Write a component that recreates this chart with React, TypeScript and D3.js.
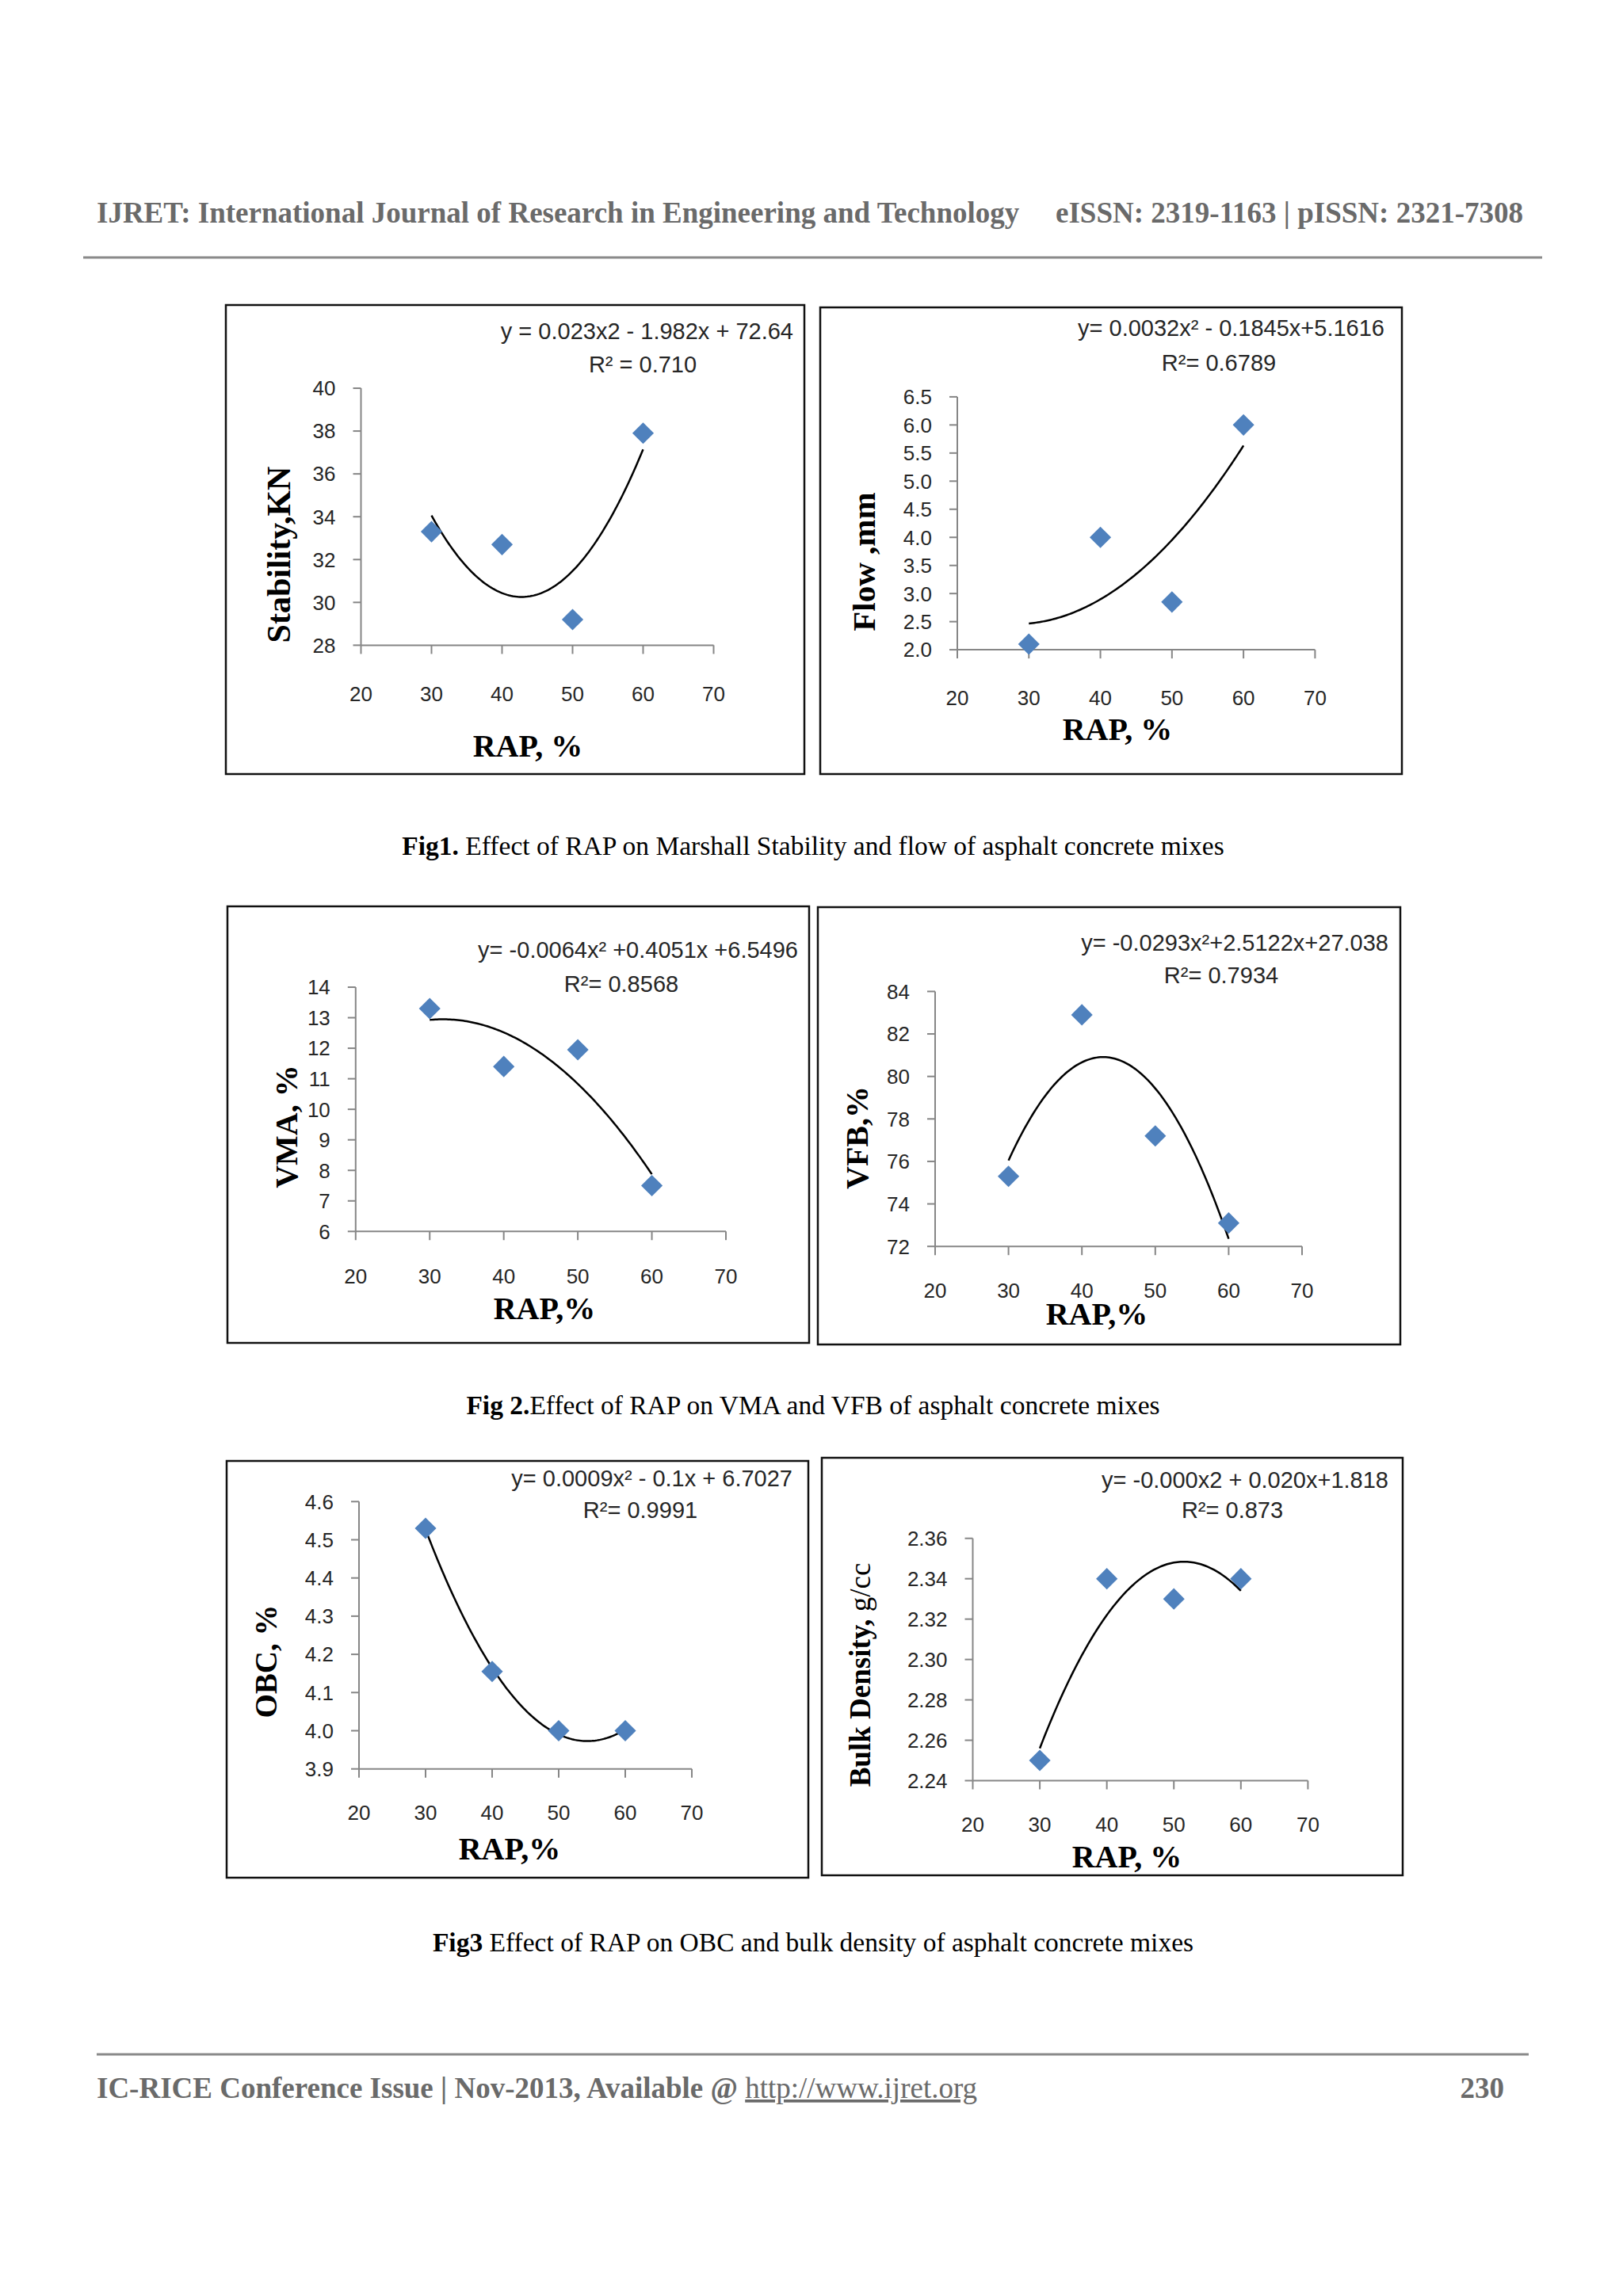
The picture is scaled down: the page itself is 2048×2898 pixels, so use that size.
import React from 'react';
import * as d3 from 'd3';

// RAP content (%) - shared x values for every figure
const rap = [30, 40, 50, 60];
const xTicks = [20, 30, 40, 50, 60, 70];

const stability = [33.3, 32.7, 29.2, 37.9];
const flow = [2.1, 4.0, 2.85, 6.0];
const vma = [13.3, 11.4, 11.95, 7.5];
const vfb = [75.3, 82.9, 77.2, 73.1];
const obc = [4.53, 4.155, 4.0, 4.0];
const bulkDensity = [2.25, 2.34, 2.33, 2.34];

const stabilityTicks = [28, 30, 32, 34, 36, 38, 40];
const flowTicks = [2.0, 2.5, 3.0, 3.5, 4.0, 4.5, 5.0, 5.5, 6.0, 6.5];
const vmaTicks = [6, 7, 8, 9, 10, 11, 12, 13, 14];
const vfbTicks = [72, 74, 76, 78, 80, 82, 84];
const obcTicks = [3.9, 4.0, 4.1, 4.2, 4.3, 4.4, 4.5, 4.6];
const densityTicks = [2.24, 2.26, 2.28, 2.30, 2.32, 2.34, 2.36];

const equations = [
  'y = 0.023x2 - 1.982x + 72.64',
  'y= 0.0032x² - 0.1845x+5.1616',
  'y= -0.0064x² +0.4051x +6.5496',
  'y= -0.0293x²+2.5122x+27.038',
  'y= 0.0009x² - 0.1x + 6.7027',
  'y= -0.000x2 + 0.020x+1.818',
];
const rSquared = ['R² = 0.710', 'R²= 0.6789', 'R²= 0.8568', 'R²= 0.7934', 'R²= 0.9991', 'R²= 0.873'];

const SERIF = '"Liberation Serif", "Times New Roman", serif';
const SANS = '"Liberation Sans", Arial, sans-serif';
const AXIS = '#868686';
const BLUE = '#4F81BD';

// least squares quadratic (same as excel's polynomial trendline, order 2)
function quadFit(xs: number[], ys: number[]) {
  const n = xs.length;
  let s = [0, 0, 0, 0, 0], t = [0, 0, 0];
  for (let i = 0; i < n; i++) {
    const x = xs[i], y = ys[i];
    for (let k = 0; k <= 4; k++) s[k] += Math.pow(x, k);
    for (let k = 0; k <= 2; k++) t[k] += y * Math.pow(x, k);
  }
  const m = [
    [s[0], s[1], s[2], t[0]],
    [s[1], s[2], s[3], t[1]],
    [s[2], s[3], s[4], t[2]],
  ];
  for (let i = 0; i < 3; i++) {
    for (let j = i + 1; j < 3; j++) {
      const f = m[j][i] / m[i][i];
      for (let k = i; k < 4; k++) m[j][k] -= f * m[i][k];
    }
  }
  const c = [0, 0, 0];
  for (let i = 2; i >= 0; i--) {
    let v = m[i][3];
    for (let k = i + 1; k < 3; k++) v -= m[i][k] * c[k];
    c[i] = v / m[i][i];
  }
  return (x: number) => c[0] + c[1] * x + c[2] * x * x;
}

type PanelProps = {
  box: number[];
  plot: { x0: number; x1: number; yTop: number; yBot: number };
  values: number[];
  yTicks: number[];
  fmt: (v: number) => string;
  eq: string;
  r2: string;
  eqPos: number[];
  r2Pos: number[];
  yLabel: React.ReactNode;
  yLabelPos: number[];
  yLabelSize: number;
  xLabel: string;
  xLabelPos: number[];
  xTickY: number;
};

const Panel = (p: PanelProps) => {
  const x = d3.scaleLinear().domain([20, 70]).range([p.plot.x0, p.plot.x1]);
  const y = d3.scaleLinear().domain([p.yTicks[0], p.yTicks[p.yTicks.length - 1]]).range([p.plot.yBot, p.plot.yTop]);
  const trend = quadFit(rap, p.values);
  const line = d3.line<number>().x(d => x(d)).y(d => y(trend(d)));
  const diamond = d3.symbol(d3.symbolDiamond2, 470)();
  const [bx0, by0, bx1, by1] = p.box;
  return (
    <g>
      <rect x={bx0} y={by0} width={bx1 - bx0} height={by1 - by0} fill="white" stroke="#111" strokeWidth={2.5} />
      <line x1={p.plot.x0} x2={p.plot.x0} y1={p.plot.yTop} y2={p.plot.yBot} stroke={AXIS} strokeWidth={2} />
      <line x1={p.plot.x0} x2={p.plot.x1} y1={p.plot.yBot} y2={p.plot.yBot} stroke={AXIS} strokeWidth={2} />
      {p.yTicks.map(t => (
        <g key={'y' + t}>
          <line x1={p.plot.x0 - 10} x2={p.plot.x0} y1={y(t)} y2={y(t)} stroke={AXIS} strokeWidth={2} />
          <text x={p.plot.x0 - 32} y={y(t)} dy="0.36em" textAnchor="end" fontFamily={SANS} fontSize={26} fill="#262626">{p.fmt(t)}</text>
        </g>
      ))}
      {xTicks.map(t => (
        <g key={'x' + t}>
          <line x1={x(t)} x2={x(t)} y1={p.plot.yBot} y2={p.plot.yBot + 11} stroke={AXIS} strokeWidth={2} />
          <text x={x(t)} y={p.xTickY} dy="0.36em" textAnchor="middle" fontFamily={SANS} fontSize={26} fill="#262626">{t}</text>
        </g>
      ))}
      <path d={line(d3.range(30, 60.001, 0.25)) || ''} fill="none" stroke="#000" strokeWidth={2.5} />
      {rap.map((r, i) => (
        <path key={'p' + r} d={diamond || ''} transform={`translate(${x(r)},${y(p.values[i])})`} fill={BLUE} />
      ))}
      <text x={p.eqPos[0]} y={p.eqPos[1]} dy="0.36em" textAnchor="end" fontFamily={SANS} fontSize={29} fill="#262626">{p.eq}</text>
      <text x={p.r2Pos[0]} y={p.r2Pos[1]} dy="0.36em" textAnchor="middle" fontFamily={SANS} fontSize={29} fill="#262626">{p.r2}</text>
      <text transform={`translate(${p.yLabelPos[0]},${p.yLabelPos[1]}) rotate(-90)`} dy="0.35em" textAnchor="middle" fontFamily={SERIF} fontWeight="bold" fontSize={p.yLabelSize} fill="#000">{p.yLabel}</text>
      <text x={p.xLabelPos[0]} y={p.xLabelPos[1]} dy="0.35em" textAnchor="middle" fontFamily={SERIF} fontWeight="bold" fontSize={40} fill="#000">{p.xLabel}</text>
    </g>
  );
};

const f0 = (v: number) => d3.format('d')(v);
const f1 = (v: number) => d3.format('.1f')(v);
const f2 = (v: number) => d3.format('.2f')(v);

export default function App() {
  return (
    <svg width={2048} height={2898} style={{ position: 'absolute', left: 0, top: 0, background: '#fff' }}>
      <rect width={2048} height={2898} fill="#fff" />
      {/* page header */}
      <text x={122} y={281} fontFamily={SERIF} fontWeight="bold" fontSize={37} fill="#6a6a6a">IJRET: International Journal of Research in Engineering and Technology</text>
      <text x={1922} y={281} textAnchor="end" fontFamily={SERIF} fontWeight="bold" fontSize={37} fill="#6a6a6a">eISSN: 2319-1163 | pISSN: 2321-7308</text>
      <line x1={105} x2={1946} y1={325} y2={325} stroke="#8a8a8a" strokeWidth={3} />

      <Panel box={[285, 385, 1015, 977]} plot={{ x0: 455.5, x1: 900.5, yTop: 490, yBot: 814.4 }}
        values={stability} yTicks={stabilityTicks} fmt={f0} eq={equations[0]} r2={rSquared[0]}
        eqPos={[1001, 418]} r2Pos={[811, 460]} yLabel="Stability,KN" yLabelPos={[351, 700]} yLabelSize={42}
        xLabel="RAP, %" xLabelPos={[666, 941]} xTickY={876} />
      <Panel box={[1035, 388, 1769, 977]} plot={{ x0: 1208, x1: 1659.4, yTop: 500.9, yBot: 820.1 }}
        values={flow} yTicks={flowTicks} fmt={f1} eq={equations[1]} r2={rSquared[1]}
        eqPos={[1747, 414]} r2Pos={[1538, 458]} yLabel="Flow ,mm" yLabelPos={[1090, 709]} yLabelSize={41}
        xLabel="RAP, %" xLabelPos={[1410, 920]} xTickY={881} />
      <text x={1026} y={1079} textAnchor="middle" fontFamily={SERIF} fontSize={33.5} fill="#000"><tspan fontWeight="bold">Fig1.</tspan> Effect of RAP on Marshall Stability and flow of asphalt concrete mixes</text>

      <Panel box={[287, 1144, 1021, 1695]} plot={{ x0: 448.8, x1: 916, yTop: 1246, yBot: 1554.3 }}
        values={vma} yTicks={vmaTicks} fmt={f0} eq={equations[2]} r2={rSquared[2]}
        eqPos={[1007, 1199]} r2Pos={[784, 1242]} yLabel="VMA, %" yLabelPos={[361, 1422]} yLabelSize={40}
        xLabel="RAP,%" xLabelPos={[687, 1651]} xTickY={1611} />
      <Panel box={[1032, 1145, 1767, 1697]} plot={{ x0: 1180, x1: 1643, yTop: 1251.4, yBot: 1573.2 }}
        values={vfb} yTicks={vfbTicks} fmt={f0} eq={equations[3]} r2={rSquared[3]}
        eqPos={[1752, 1190]} r2Pos={[1541, 1231]} yLabel="VFB,%" yLabelPos={[1081, 1436]} yLabelSize={40}
        xLabel="RAP,%" xLabelPos={[1384, 1658]} xTickY={1629} />
      <text x={1026} y={1785} textAnchor="middle" fontFamily={SERIF} fontSize={33.5} fill="#000"><tspan fontWeight="bold">Fig 2.</tspan>Effect of RAP on VMA and VFB of asphalt concrete mixes</text>

      <Panel box={[286, 1844, 1020, 2370]} plot={{ x0: 453, x1: 873, yTop: 1895.3, yBot: 2232.7 }}
        values={obc} yTicks={obcTicks} fmt={f1} eq={equations[4]} r2={rSquared[4]}
        eqPos={[1000, 1866]} r2Pos={[808, 1906]} yLabel="OBC, %" yLabelPos={[335, 2097]} yLabelSize={39}
        xLabel="RAP,%" xLabelPos={[643, 2333]} xTickY={2288} />
      <Panel box={[1037, 1840, 1770, 2367]} plot={{ x0: 1227.5, x1: 1650.4, yTop: 1941.7, yBot: 2247.5 }}
        values={bulkDensity} yTicks={densityTicks} fmt={f2} eq={equations[5]} r2={rSquared[5]}
        eqPos={[1752, 1868]} r2Pos={[1555, 1906]}
        yLabel={<><tspan>Bulk Density, </tspan><tspan fontWeight="normal">g/cc</tspan></>}
        yLabelPos={[1085, 2114]} yLabelSize={37}
        xLabel="RAP, %" xLabelPos={[1422, 2343]} xTickY={2303} />
      <text x={1026} y={2463} textAnchor="middle" fontFamily={SERIF} fontSize={33.5} fill="#000"><tspan fontWeight="bold">Fig3</tspan> Effect of RAP on OBC and bulk density of asphalt concrete mixes</text>

      {/* page footer */}
      <line x1={122} x2={1929} y1={2593} y2={2593} stroke="#8a8a8a" strokeWidth={3} />
      <text x={122} y={2648} fontFamily={SERIF} fontSize={37} fill="#6a6a6a">
        <tspan fontWeight="bold">IC-RICE Conference Issue | Nov-2013, Available @ </tspan>
        <tspan textDecoration="underline" style={{ textDecoration: 'underline' }}>http://www.ijret.org</tspan>
      </text>
      <text x={1898} y={2648} textAnchor="end" fontFamily={SERIF} fontWeight="bold" fontSize={37} fill="#6a6a6a">230</text>
    </svg>
  );
}
